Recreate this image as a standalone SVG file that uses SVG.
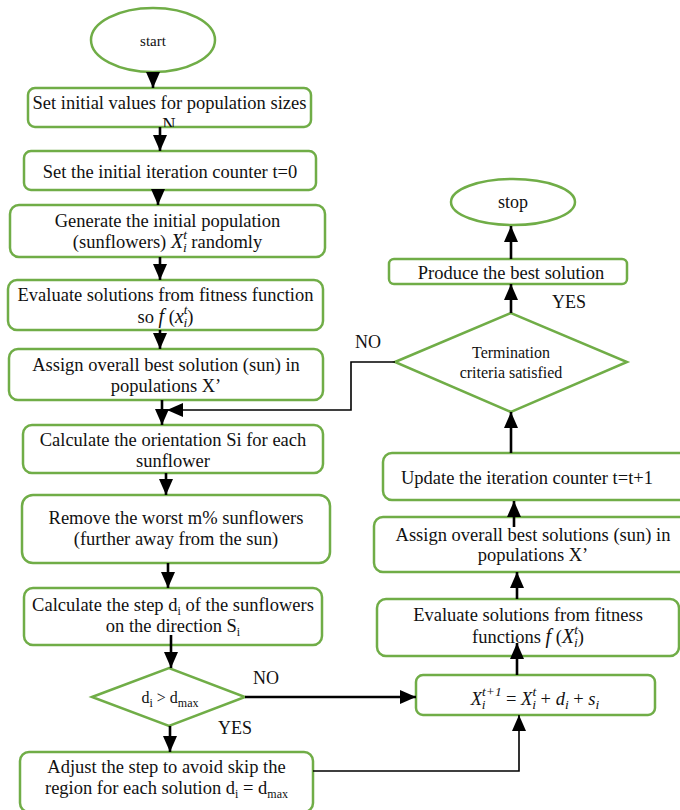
<svg xmlns="http://www.w3.org/2000/svg" width="680" height="810" viewBox="0 0 680 810">
<style>
.b{fill:#fff;stroke:#70AD47;stroke-width:2.5}
.t{font-family:'Liberation Serif','DejaVu Serif',serif;font-size:18.5px;fill:#111;text-anchor:middle}
.s{font-size:16px}
.m{font-style:italic}
.sm{font-size:12px}
.ms{font-size:13.5px}
.lb{font-family:'Liberation Serif','DejaVu Serif',serif;font-size:18px;fill:#111}
.c{fill:none;stroke:#000;stroke-width:2.6}
.c2{fill:none;stroke:#000;stroke-width:1.6}
</style>
<defs>
<marker id="ah" viewBox="0 0 16 14" refX="16" refY="7" markerWidth="16" markerHeight="14" markerUnits="userSpaceOnUse" orient="auto">
<path d="M0,0 L16,7 L0,14 z" fill="#000"/>
</marker>
<clipPath id="clipN"><rect x="150" y="100" width="40" height="27"/></clipPath>
</defs>

<g id="n-start"><ellipse class="b" cx="153" cy="40" rx="62" ry="32"/><text class="t" x="153" y="46" style="font-size:15px">start</text></g>
<g id="n-set-initial"><rect class="b" x="28" y="88" width="283" height="39" rx="7"/><text class="t" x="169.5" y="109">Set initial values for population sizes</text></g>
<g id="n-N"><text class="t" x="169" y="131" clip-path="url(#clipN)">N</text></g>
<g id="n-counter"><rect class="b" x="24" y="151" width="292" height="39" rx="7"/><text class="t" x="170" y="178">Set the initial iteration counter t=0</text></g>
<g id="n-generate"><rect class="b" x="10" y="205" width="315" height="52" rx="9"/><text class="t" x="167.5" y="227">Generate the initial population</text><text class="t" x="167.5" y="248">(sunflowers) <tspan class="m" font-size="20">X</tspan><tspan class="m ms" dy="-9">t</tspan><tspan class="m ms" dx="-4" dy="13">i</tspan><tspan dy="-4"> randomly</tspan></text></g>
<g id="n-evaluate"><rect class="b" x="8" y="280" width="315" height="50" rx="9"/><text class="t" x="165.5" y="323">so <tspan class="m" font-size="20">f</tspan> (<tspan class="m" font-size="20">x</tspan><tspan class="m ms" dy="-9">t</tspan><tspan class="m ms" dx="-4" dy="13">i</tspan><tspan dy="-4">)</tspan></text><text class="t" x="165.5" y="301">Evaluate solutions from fitness function</text></g>
<g id="n-assign"><rect class="b" x="9" y="349" width="314" height="51" rx="9"/><text class="t" x="166" y="371">Assign overall best solution (sun) in</text><text class="t" x="166" y="392">populations X’</text></g>
<g id="n-orientation"><rect class="b" x="23" y="425" width="300" height="48" rx="9"/><text class="t" x="173" y="446">Calculate the orientation Si for each</text><text class="t" x="173" y="467">sunflower</text></g>
<g id="n-remove"><rect class="b" x="22" y="495" width="308" height="68" rx="11"/><text class="t" x="176" y="524">Remove the worst m% sunflowers</text><text class="t" x="176" y="545">(further away from the sun)</text></g>
<g id="n-step"><rect class="b" x="24" y="588" width="298" height="57" rx="9"/><text class="t" x="173" y="611">Calculate the step d<tspan class="sm" dy="4">i</tspan><tspan dy="-4"> of the sunflowers</tspan></text><text class="t" x="173" y="632">on the direction S<tspan class="sm" dy="4">i</tspan></text></g>
<g id="n-check"><polygon class="b" points="92,697 169,668 245,697 169,726"/><text class="t s" x="170" y="703">d<tspan class="sm" dy="4">i</tspan><tspan dy="-4"> &gt; d</tspan><tspan class="sm" dy="4">max</tspan></text></g>
<g id="n-adjust"><rect class="b" x="20" y="752" width="293" height="60" rx="9"/><text class="t" x="166.5" y="773">Adjust the step to avoid skip the</text><text class="t" x="166.5" y="794">region for each solution d<tspan class="sm" dy="4">i</tspan><tspan dy="-4"> = d</tspan><tspan class="sm" dy="4">max</tspan></text></g>
<g id="n-update-x"><rect class="b" x="416" y="675" width="239" height="40" rx="7"/><text class="t" x="535" y="705" font-size="20"><tspan class="m">X</tspan><tspan class="m ms" dy="-9">t+1</tspan><tspan class="m ms" dx="-20" dy="13">i</tspan><tspan dx="16" dy="-4"> = </tspan><tspan class="m">X</tspan><tspan class="m ms" dy="-9">t</tspan><tspan class="m ms" dx="-4" dy="13">i</tspan><tspan dy="-4"> + </tspan><tspan class="m">d</tspan><tspan class="m ms" dy="4">i</tspan><tspan dy="-4"> + </tspan><tspan class="m">s</tspan><tspan class="m ms" dy="4">i</tspan></text></g>
<g id="n-evaluate2"><rect class="b" x="377" y="599" width="302" height="57" rx="9"/><text class="t" x="528" y="621">Evaluate solutions from fitness</text><text class="t" x="528" y="643">functions <tspan class="m" font-size="20">f</tspan> (<tspan class="m" font-size="20">X</tspan><tspan class="m ms" dy="-9">t</tspan><tspan class="m ms" dx="-4" dy="13">i</tspan><tspan dy="-4">)</tspan></text></g>
<g id="n-assign2"><rect class="b" x="374" y="517" width="320" height="55" rx="9"/><text class="t" x="533" y="541">Assign overall best solutions (sun) in</text><text class="t" x="533" y="561">populations X’</text></g>
<g id="n-iter"><rect class="b" x="383" y="453" width="310" height="47" rx="9"/><text class="t" x="527" y="484">Update the iteration counter t=t+1</text></g>
<g id="n-term"><polygon class="b" points="395,362 511,313 627,362 511,412"/><text class="t s" x="511" y="358">Termination</text><text class="t s" x="511" y="378">criteria satisfied</text></g>
<g id="n-produce"><rect class="b" x="389" y="259" width="238" height="25" rx="5"/><text class="t" x="511" y="279">Produce the best solution</text></g>
<g id="n-stop"><ellipse class="b" cx="513" cy="202" rx="62" ry="23"/><text class="t" x="513" y="208" style="font-size:18px">stop</text></g>

<g id="labels">
<text class="lb" x="355" y="348">NO</text>
<text class="lb" x="552" y="308">YES</text>
<text class="lb" x="253" y="684">NO</text>
<text class="lb" x="218" y="734">YES</text>
</g>

<g id="connectors">
<path class="c" d="M153,72 L153,88" marker-end="url(#ah)"/>
<path class="c" d="M160,127 L160,151" marker-end="url(#ah)"/>
<path class="c" d="M158,190 L158,205" marker-end="url(#ah)"/>
<path class="c" d="M160,257 L160,280" marker-end="url(#ah)"/>
<path class="c" d="M160,330 L160,349" marker-end="url(#ah)"/>
<path class="c" d="M162,400 L162,425" marker-end="url(#ah)"/>
<path class="c2" d="M395,362 L351,362 L351,410 L167,410" marker-end="url(#ah)"/>
<path class="c" d="M166,473 L166,495" marker-end="url(#ah)"/>
<path class="c" d="M168,563 L168,588" marker-end="url(#ah)"/>
<path class="c" d="M171,635 L171,668" marker-end="url(#ah)"/>
<path class="c" d="M170,726 L170,752" marker-end="url(#ah)"/>
<path class="c" d="M245,697 L416,697" marker-end="url(#ah)"/>
<path class="c2" d="M313,771 L519,771 L519,715" marker-end="url(#ah)"/>
<path class="c" d="M517,675 L517,643" marker-end="url(#ah)"/>
<path class="c" d="M517,599 L517,572" marker-end="url(#ah)"/>
<path class="c" d="M514,527 L514,501" marker-end="url(#ah)"/>
<path class="c" d="M511,453 L511,412" marker-end="url(#ah)"/>
<path class="c" d="M511,313 L511,284" marker-end="url(#ah)"/>
<path class="c" d="M511,259 L511,226" marker-end="url(#ah)"/>
</g>
</svg>
